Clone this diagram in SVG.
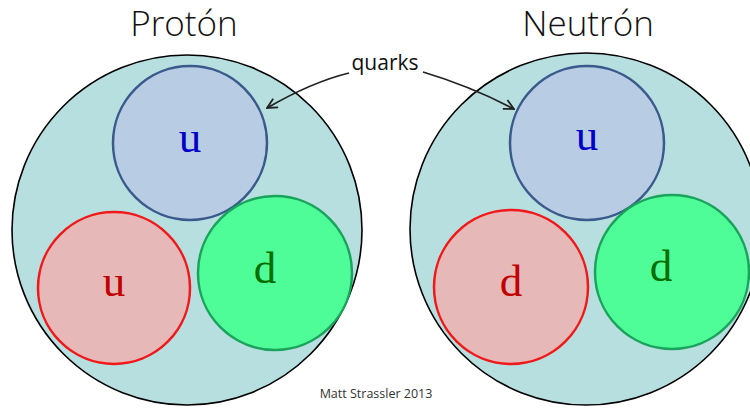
<svg xmlns="http://www.w3.org/2000/svg" width="750" height="408" viewBox="0 0 750 408">
<style>
.big{fill:#b7dfe0;stroke:#000;stroke-width:1.6}
.qb{fill:#b8cce4;stroke:#3a5a8c;stroke-width:2.5}
.qr{fill:#e6b9b8;stroke:#f01818;stroke-width:2.5}
.qg{fill:#4ffd98;stroke:#1aa35a;stroke-width:2.5}
.lt{font-family:"Liberation Serif","DejaVu Serif",serif;font-size:45px;text-anchor:middle}
.title{font-family:"Open Sans","Liberation Sans",sans-serif;font-size:35px;font-weight:300;fill:#111;text-anchor:middle}
.conn{fill:none;stroke:#222;stroke-width:1.8}
</style>
<defs>
<marker id="ah" viewBox="0 0 12 12" refX="11" refY="6" markerWidth="12" markerHeight="12" markerUnits="userSpaceOnUse" orient="auto">
<path d="M1,1 L11,6 L1,11" fill="none" stroke="#222" stroke-width="1.8"/>
</marker>
</defs>
<rect width="750" height="408" fill="#fff"/>
<g id="proton">
<circle class="big" cx="187" cy="230" r="175"/>
<text class="title" x="184" y="36">Protón</text>
</g>
<g id="neutron">
<circle class="big" cx="586" cy="229" r="176"/>
<text class="title" x="588" y="36">Neutrón</text>
</g>
<g id="p-u1"><circle class="qb" cx="190" cy="143" r="77"/><text class="lt" x="190" y="152" fill="#0000c8">u</text></g>
<g id="p-u2"><circle class="qr" cx="114" cy="288" r="76"/><text class="lt" x="114" y="296" fill="#c00000">u</text></g>
<g id="p-d"><circle class="qg" cx="275" cy="273" r="77"/><text class="lt" x="265" y="283" fill="#006e00">d</text></g>
<g id="n-u"><circle class="qb" cx="587" cy="143" r="77"/><text class="lt" x="587" y="150" fill="#0000c8">u</text></g>
<g id="n-d1"><circle class="qr" cx="511" cy="287" r="77"/><text class="lt" x="511" y="296" fill="#c00000">d</text></g>
<g id="n-d2"><circle class="qg" cx="672" cy="272" r="77"/><text class="lt" x="661" y="281" fill="#006e00">d</text></g>
<g id="label">
<text x="385" y="70" font-family="Open Sans,'Liberation Sans',sans-serif" font-size="21" fill="#111" text-anchor="middle">quarks</text>
</g>
<g id="credit">
<text x="376" y="398" font-family="Open Sans,'Liberation Sans',sans-serif" font-size="12.5" fill="#333" text-anchor="middle">Matt Strassler 2013</text>
</g>
<g id="connectors">
<path class="conn" d="M349,73 Q312,82 267,108" marker-end="url(#ah)"/>
<path class="conn" d="M423,72 Q470,86 514,109" marker-end="url(#ah)"/>
</g>
</svg>
